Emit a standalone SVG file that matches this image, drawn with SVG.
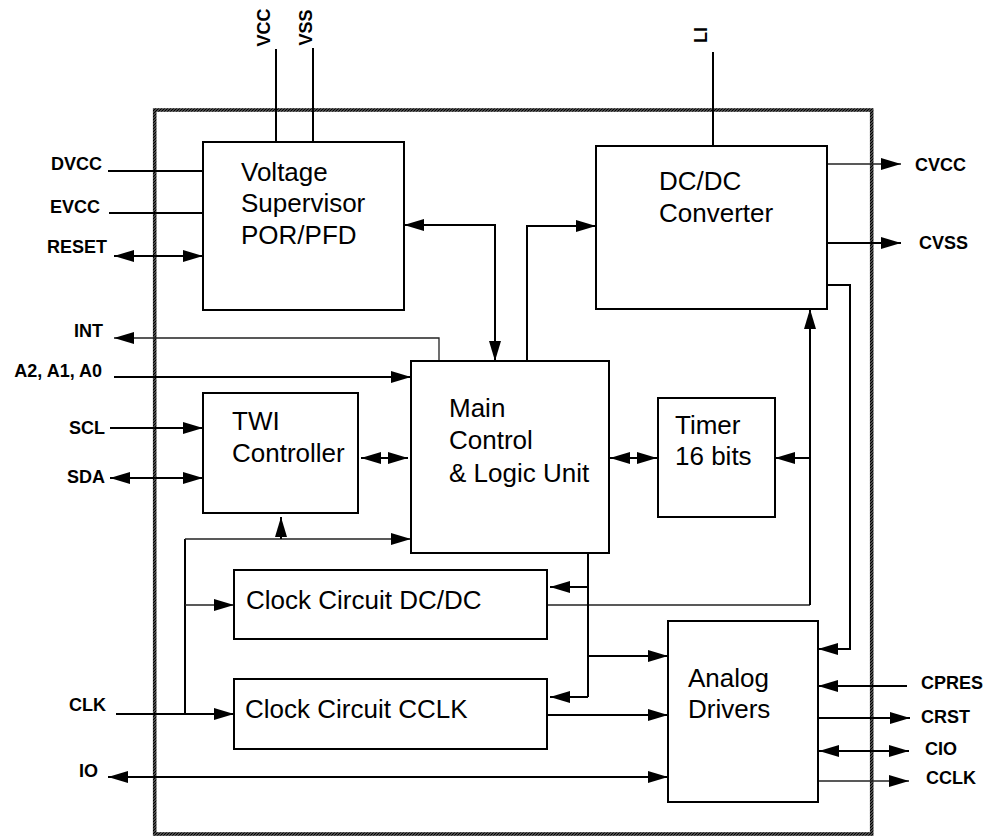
<svg xmlns="http://www.w3.org/2000/svg" width="989" height="836" viewBox="0 0 989 836">
<style>
.box{fill:#fff;stroke:#000;stroke-width:2}
.bt{font-family:"Liberation Sans",Arial,sans-serif;font-size:26px;fill:#000}
.lb{font-family:"Liberation Sans",Arial,sans-serif;font-size:18px;font-weight:bold;fill:#000}
.w{fill:none;stroke:#000;stroke-width:2}
.t{fill:none;stroke:#222;stroke-width:1.3}
.e{marker-end:url(#ah)}
.b{marker-start:url(#ah);marker-end:url(#ah)}
</style>
<defs>
<marker id="ah" viewBox="0 0 20 12" refX="20" refY="6" markerWidth="20" markerHeight="12" markerUnits="userSpaceOnUse" orient="auto-start-reverse">
<path d="M0,0 L20,6 L0,12 z" fill="#000"/>
</marker>
<pattern id="hatch" patternUnits="userSpaceOnUse" width="3" height="3">
<rect width="3" height="3" fill="#fff"/>
<path d="M-1,1 L1,-1 M0,3 L3,0 M2,4 L4,2" stroke="#000" stroke-width="1.7"/>
</pattern>
</defs>
<rect width="989" height="836" fill="#fff"/>
<rect id="frame" x="154.7" y="110" width="717" height="724" fill="none" stroke="url(#hatch)" stroke-width="3.6"/>

<g id="connectors">
<path class="w" d="M276,49 V142"/>
<path class="w" d="M313,48 V142"/>
<path class="w" d="M713,52 V146"/>
<path class="w" d="M108,171 H203"/>
<path class="w" d="M109,213 H203"/>
<path class="w b" d="M114,256 H203"/>
<path class="w b" d="M404,225 H495 V361"/>
<path class="w e" d="M527,361 V226 H596"/>
<path class="t e" d="M827,164 H901"/>
<path class="w e" d="M827,243 H901"/>
<path class="w e" d="M827,285 H850 V649 H818"/>
<path class="t e" d="M439,361 V338 H114"/>
<path class="w e" d="M114,377 H411"/>
<path class="w e" d="M110,428 H203"/>
<path class="w b" d="M110,478 H203"/>
<path class="w b" d="M361,458 H408"/>
<path class="w b" d="M610,458 H657"/>
<path class="w e" d="M810,458 H775"/>
<path class="t" d="M547,605 H810"/>
<path class="w e" d="M810,605 V309"/>
<path class="w e" d="M116,714 H234"/>
<path class="w" d="M185,714 V539"/>
<path class="t e" d="M185,539 H411"/>
<path class="w e" d="M281,539 V517"/>
<path class="t e" d="M185,605 H234"/>
<path class="w" d="M588,553 V697"/>
<path class="w e" d="M588,587 H550"/>
<path class="w e" d="M588,656 H668"/>
<path class="w e" d="M588,697 H550"/>
<path class="w e" d="M547,715 H668"/>
<path class="w b" d="M108,777 H668"/>
<path class="w e" d="M907,686 H818"/>
<path class="w e" d="M818,718 H910"/>
<path class="w b" d="M819,751 H909"/>
<path class="t e" d="M818,781 H909"/>
</g>

<g id="voltage">
<rect class="box" x="203" y="142" width="201" height="168"/>
<text class="bt" x="241" y="181">Voltage</text>
<text class="bt" x="241" y="212">Supervisor</text>
<text class="bt" x="241" y="244">POR/PFD</text>
</g>
<g id="dcdc">
<rect class="box" x="596" y="146" width="231" height="163"/>
<text class="bt" x="659" y="190">DC/DC</text>
<text class="bt" x="659" y="222">Converter</text>
</g>
<g id="twi">
<rect class="box" x="203" y="393" width="155" height="120"/>
<text class="bt" x="232" y="430">TWI</text>
<text class="bt" x="232" y="462">Controller</text>
</g>
<g id="main">
<rect class="box" x="411" y="361" width="198" height="192"/>
<text class="bt" x="449" y="417">Main</text>
<text class="bt" x="449" y="449">Control</text>
<text class="bt" x="449" y="482">&amp; Logic Unit</text>
</g>
<g id="timer">
<rect class="box" x="658" y="398" width="117" height="119"/>
<text class="bt" x="675" y="434">Timer</text>
<text class="bt" x="675" y="465">16 bits</text>
</g>
<g id="clkdcdc">
<rect class="box" x="234" y="570" width="313" height="69"/>
<text class="bt" x="246" y="609">Clock Circuit DC/DC</text>
</g>
<g id="clkcclk">
<rect class="box" x="234" y="679" width="313" height="70"/>
<text class="bt" x="245" y="718">Clock Circuit CCLK</text>
</g>
<g id="analog">
<rect class="box" x="668" y="621" width="150" height="181"/>
<text class="bt" x="688" y="687">Analog</text>
<text class="bt" x="688" y="718">Drivers</text>
</g>

<g id="labels">
<text class="lb" transform="translate(270,27.5) rotate(-90)" text-anchor="middle">VCC</text>
<text class="lb" transform="translate(311.5,27.5) rotate(-90)" text-anchor="middle">VSS</text>
<text class="lb" transform="translate(707,35) rotate(-90)" text-anchor="middle">LI</text>
<text class="lb" x="102" y="170" text-anchor="end">DVCC</text>
<text class="lb" x="100" y="213" text-anchor="end">EVCC</text>
<text class="lb" x="107" y="253" text-anchor="end">RESET</text>
<text class="lb" x="103" y="337" text-anchor="end">INT</text>
<text class="lb" x="102" y="377" text-anchor="end">A2, A1, A0</text>
<text class="lb" x="105" y="434" text-anchor="end">SCL</text>
<text class="lb" x="105" y="483" text-anchor="end">SDA</text>
<text class="lb" x="106" y="711" text-anchor="end">CLK</text>
<text class="lb" x="98" y="777" text-anchor="end">IO</text>
<text class="lb" x="915" y="171">CVCC</text>
<text class="lb" x="919" y="249">CVSS</text>
<text class="lb" x="921" y="689">CPRES</text>
<text class="lb" x="921" y="723">CRST</text>
<text class="lb" x="925" y="755">CIO</text>
<text class="lb" x="926" y="784">CCLK</text>
</g>
</svg>
